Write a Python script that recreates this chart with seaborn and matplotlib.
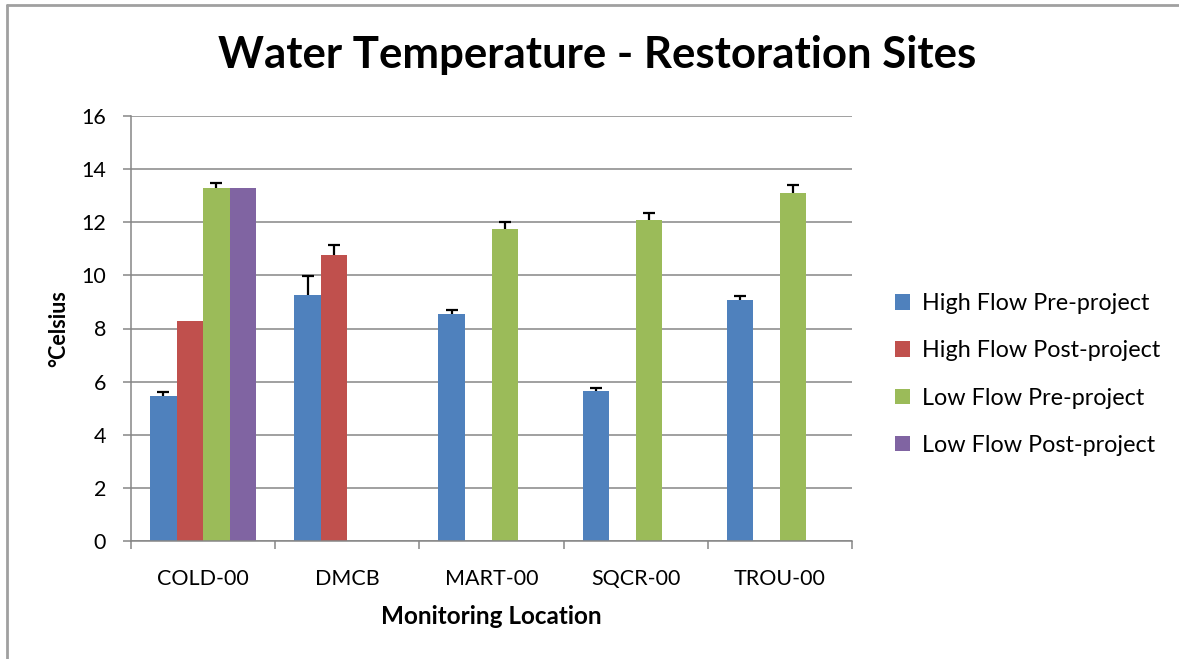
import numpy as np
import pandas as pd
import seaborn as sns
import matplotlib
matplotlib.use("Agg")
import matplotlib.pyplot as plt
from matplotlib.lines import Line2D

# Mean water temperature (°C) by monitoring location and flow/project period
locations = ["COLD-00", "DMCB", "MART-00", "SQCR-00", "TROU-00"]
series = ["High Flow Pre-project", "High Flow Post-project",
          "Low Flow Pre-project", "Low Flow Post-project"]

high_pre = [5.46, 9.26, 8.55, 5.65, 9.07]
high_post = [8.28, 10.77, np.nan, np.nan, np.nan]
low_pre = [13.29, np.nan, 11.75, 12.09, 13.10]
low_post = [13.29, np.nan, np.nan, np.nan, np.nan]

# Upper error bar lengths (0 = no error bar shown)
high_pre_err = [0.14, 0.72, 0.16, 0.12, 0.15]
high_post_err = [0.0, 0.39, 0.0, 0.0, 0.0]
low_pre_err = [0.18, 0.0, 0.26, 0.27, 0.29]
low_post_err = [0.0, 0.0, 0.0, 0.0, 0.0]

y_ticks = [0, 2, 4, 6, 8, 10, 12, 14, 16]
colors = ["#4F81BD", "#C0504D", "#9BBB59", "#8064A2"]

values = [high_pre, high_post, low_pre, low_post]
errors = [high_pre_err, high_post_err, low_pre_err, low_post_err]

rows = []
for s, vals, errs in zip(series, values, errors):
    for loc, v, e in zip(locations, vals, errs):
        if not np.isnan(v):
            rows.append({"Location": loc, "Series": s, "Temp": v, "Err": e})
df = pd.DataFrame(rows)

sns.set_theme(style="white")
plt.rcParams["font.family"] = ["Lato", "DejaVu Sans"]
plt.rcParams["text.color"] = "black"

fig = plt.figure(figsize=(11.79, 6.59), dpi=100)
ax = fig.add_axes([131 / 1179, 1 - 541 / 659, (852 - 131) / 1179, (541 - 116) / 659])

sns.barplot(data=df, x="Location", y="Temp", hue="Series",
            order=locations, hue_order=series, palette=colors,
            errorbar=None, width=0.736, saturation=1, linewidth=0, ax=ax)

# Upper-only error bars on each bar (cap drawn at the top end only)
for cont, s in zip(ax.containers, series):
    sub = df[df["Series"] == s].set_index("Location")
    for bar in cont:
        cx = bar.get_x() + bar.get_width() / 2
        loc = locations[int(round(cx))]
        e = sub.loc[loc, "Err"]
        if e > 0:
            _, caps, _ = ax.errorbar(cx, bar.get_height(), yerr=[[0], [e]],
                                     fmt="none", ecolor="black",
                                     elinewidth=1.6, capsize=4.6,
                                     capthick=1.6, zorder=5)
            caps[0].set_visible(False)

grid_c = "#868686"
ax.set_ylim(0, 16)
ax.set_xlim(-0.5, len(locations) - 0.5)
ax.set_yticks(y_ticks)
ax.set_yticklabels([str(t) for t in y_ticks])
ax.yaxis.grid(True, color=grid_c, linewidth=1.1)
ax.set_axisbelow(True)

# Category ticks sit on the boundaries between groups
ax.set_xticks(np.arange(-0.5, len(locations)), minor=False)
ax.set_xticklabels([])
ax.set_xticks(np.arange(len(locations)), minor=True)
ax.set_xticklabels(locations, minor=True)
ax.tick_params(axis="x", which="major", direction="out", length=6,
               width=1.1, color=grid_c, bottom=True)
ax.tick_params(axis="x", which="minor", length=0, pad=20, labelsize=15.5,
               labelcolor="black")
ax.tick_params(axis="y", direction="out", length=6, width=1.1, color=grid_c,
               left=True, pad=12, labelsize=15.5, labelcolor="black")

for side in ["top", "right"]:
    ax.spines[side].set_visible(False)
for side in ["left", "bottom"]:
    ax.spines[side].set_color(grid_c)
    ax.spines[side].set_linewidth(1.1)

ax.set_xlabel("Monitoring Location", fontsize=17.5, fontweight="bold",
              labelpad=12, color="black")
ax.set_ylabel("°Celsius", fontsize=15.5, fontweight="bold", labelpad=8.5,
              color="black")

fig.text(597 / 1179, 1 - 55 / 659, "Water Temperature - Restoration Sites",
         ha="center", va="center", fontsize=31.5, fontweight="bold",
         color="black")

handles, labels = ax.get_legend_handles_labels()
leg = ax.legend(handles, labels, loc="center left",
                bbox_to_anchor=(895 / 1179, 1 - 374.5 / 659),
                bbox_transform=fig.transFigure, frameon=False, fontsize=16.8,
                handlelength=0.66, handleheight=0.66, handletextpad=0.5,
                labelspacing=1.12, borderpad=0, borderaxespad=0)
for t in leg.get_texts():
    t.set_color("black")

# Chart area border along the top and left edges
border_c = "#A0A0A0"
fig.add_artist(Line2D([7 / 1179, 7 / 1179], [0, 1 - 5 / 659],
                      transform=fig.transFigure, color=border_c, linewidth=2))
fig.add_artist(Line2D([7 / 1179, 1], [1 - 5 / 659, 1 - 5 / 659],
                      transform=fig.transFigure, color=border_c, linewidth=2))

fig.savefig("out.png", dpi=100)
